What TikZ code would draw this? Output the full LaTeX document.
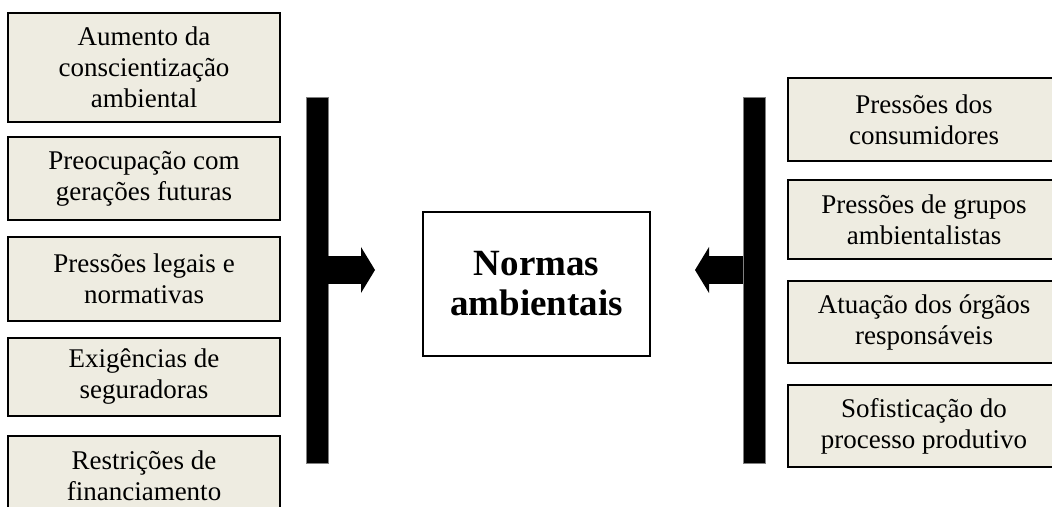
\documentclass[tikz,border=0pt]{standalone}
\usepackage{fontspec}
\setmainfont{Liberation Serif}
\usetikzlibrary{arrows.meta}
\definecolor{fundo}{HTML}{EEECE1}

\begin{document}
\begin{tikzpicture}[x=0.5pt,y=-0.5pt,
        fator/.style={draw,line width=0.8pt,fill=fundo,minimum width=136pt,inner sep=0pt,align=center,font=\fontsize{13.5}{15.5}\selectfont},
        barra/.style={fill=black,draw=gray,line width=0.3pt,minimum width=11pt,minimum height=183pt,inner sep=0pt},
        seta/.style={line width=14pt,-{Triangle[length=7pt,width=23pt,line width=0pt]}}]
        \clip (0,0) rectangle (1052,507);

        \node[fator,minimum height=54.5pt] (aumento) at (144,67.5) {Aumento da\\conscientização\\ambiental};
        \node[fator,minimum height=41.5pt] (preocupacao) at (144,178.5) {Preocupação com\\gerações futuras};
        \node[fator,minimum height=42pt] (legais) at (144,279) {Pressões legais e\\normativas};
        \node[fator,minimum height=39pt] (seguradoras) at (144,377) {Exigências de\\seguradoras};
        \node[fator,minimum height=40pt] (financiamento) at (144,476) {Restrições de\\financiamento};

        \node[fator,minimum height=41.5pt] (consumidores) at (924,119.5) {Pressões dos\\consumidores};
        \node[fator,minimum height=39.5pt] (ambientalistas) at (924,219.5) {Pressões de grupos\\ambientalistas};
        \node[fator,minimum height=41pt] (orgaos) at (924,322) {Atuação dos órgãos\\responsáveis};
        \node[fator,minimum height=41pt] (produtivo) at (924,426) {Sofisticação do\\processo produtivo};

        \node[barra] (barraE) at (317,280) {};
        \node[barra] (barraD) at (754.5,280) {};

        \node[draw,line width=0.8pt,fill=white,minimum width=113.5pt,minimum height=72pt,align=center,
            font=\bfseries\fontsize{18.5}{20}\selectfont] (normas) at (536.5,284) {Normas\\ambientais};

        \coordinate (pontaE) at (375,270);
        \coordinate (pontaD) at (695,270);
        \draw[seta] (barraE.east |- pontaE) -- (pontaE);
        \draw[seta] (barraD.west |- pontaD) -- (pontaD);
\end{tikzpicture}
\end{document}
